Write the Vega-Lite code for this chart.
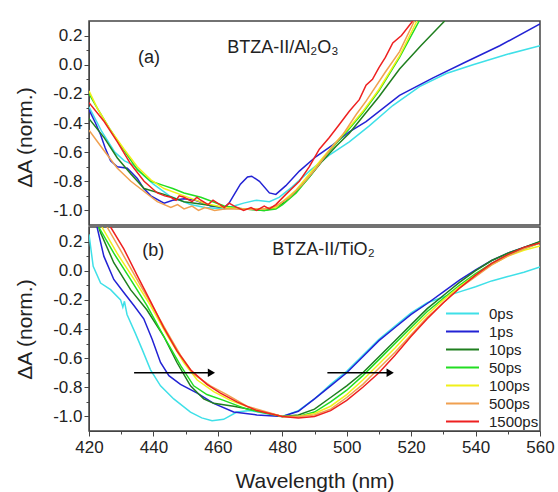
{
  "$schema": "https://vega.github.io/schema/vega-lite/v6.json",
  "padding": {"left": 13, "top": 20, "right": 4, "bottom": 2},
  "background": "white",
  "spacing": 0,
  "config": {
    "view": {"stroke": "#444", "strokeWidth": 1.5},
    "font": "Liberation Sans",
    "axis": {"grid": false, "domainColor": "#444", "tickColor": "#444", "labelColor": "#222", "titleColor": "#222", "titleFontWeight": "normal", "labelFont": "Liberation Sans", "titleFont": "Liberation Sans", "labelFlush": false, "labelOverlap": false}
  },
  "datasets": {
    "a": [
      {"t":"0ps","nm":420,"v":-0.29},{"t":"0ps","nm":424,"v":-0.46},{"t":"0ps","nm":428,"v":-0.6},{"t":"0ps","nm":431,"v":-0.66},{"t":"0ps","nm":434,"v":-0.69},{"t":"0ps","nm":437,"v":-0.76},{"t":"0ps","nm":440,"v":-0.82},{"t":"0ps","nm":445,"v":-0.9},{"t":"0ps","nm":451.5,"v":-0.96},{"t":"0ps","nm":456,"v":-0.98},{"t":"0ps","nm":462,"v":-0.99},{"t":"0ps","nm":465,"v":-0.97},{"t":"0ps","nm":468,"v":-0.95},{"t":"0ps","nm":472,"v":-0.93},{"t":"0ps","nm":476,"v":-0.94},{"t":"0ps","nm":479,"v":-0.91},{"t":"0ps","nm":483,"v":-0.84},{"t":"0ps","nm":488.4,"v":-0.73},{"t":"0ps","nm":494.6,"v":-0.62},{"t":"0ps","nm":500.8,"v":-0.53},{"t":"0ps","nm":507,"v":-0.42},{"t":"0ps","nm":514.3,"v":-0.28},{"t":"0ps","nm":522.6,"v":-0.15},{"t":"0ps","nm":530.9,"v":-0.06},{"t":"0ps","nm":539.2,"v":0.0},{"t":"0ps","nm":549.6,"v":0.07},{"t":"0ps","nm":560,"v":0.13},
      {"t":"1ps","nm":420,"v":-0.31},{"t":"1ps","nm":422,"v":-0.4},{"t":"1ps","nm":423.6,"v":-0.48},{"t":"1ps","nm":425,"v":-0.57},{"t":"1ps","nm":426.7,"v":-0.66},{"t":"1ps","nm":428.8,"v":-0.7},{"t":"1ps","nm":431.9,"v":-0.71},{"t":"1ps","nm":435,"v":-0.78},{"t":"1ps","nm":437,"v":-0.85},{"t":"1ps","nm":439.2,"v":-0.9},{"t":"1ps","nm":443.3,"v":-0.95},{"t":"1ps","nm":446,"v":-0.93},{"t":"1ps","nm":449.5,"v":-0.92},{"t":"1ps","nm":453,"v":-0.93},{"t":"1ps","nm":457.8,"v":-0.97},{"t":"1ps","nm":462,"v":-0.98},{"t":"1ps","nm":463.5,"v":-0.95},{"t":"1ps","nm":465.1,"v":-0.89},{"t":"1ps","nm":467,"v":-0.82},{"t":"1ps","nm":469.2,"v":-0.77},{"t":"1ps","nm":470.5,"v":-0.765},{"t":"1ps","nm":472.9,"v":-0.8},{"t":"1ps","nm":476,"v":-0.88},{"t":"1ps","nm":478,"v":-0.89},{"t":"1ps","nm":481.1,"v":-0.83},{"t":"1ps","nm":485.3,"v":-0.73},{"t":"1ps","nm":490.5,"v":-0.63},{"t":"1ps","nm":495.7,"v":-0.55},{"t":"1ps","nm":500.8,"v":-0.46},{"t":"1ps","nm":506,"v":-0.39},{"t":"1ps","nm":516.4,"v":-0.21},{"t":"1ps","nm":526.8,"v":-0.09},{"t":"1ps","nm":537.1,"v":0.02},{"t":"1ps","nm":547.5,"v":0.13},{"t":"1ps","nm":560,"v":0.28},
      {"t":"10ps","nm":420,"v":-0.37},{"t":"10ps","nm":424.7,"v":-0.5},{"t":"10ps","nm":428.8,"v":-0.64},{"t":"10ps","nm":433,"v":-0.75},{"t":"10ps","nm":437.1,"v":-0.85},{"t":"10ps","nm":443.3,"v":-0.89},{"t":"10ps","nm":449.5,"v":-0.94},{"t":"10ps","nm":455.7,"v":-0.96},{"t":"10ps","nm":462,"v":-0.98},{"t":"10ps","nm":468,"v":-0.99},{"t":"10ps","nm":474.4,"v":-1.0},{"t":"10ps","nm":478,"v":-0.98},{"t":"10ps","nm":481,"v":-0.94},{"t":"10ps","nm":484.3,"v":-0.87},{"t":"10ps","nm":488.4,"v":-0.77},{"t":"10ps","nm":492.5,"v":-0.66},{"t":"10ps","nm":496.7,"v":-0.56},{"t":"10ps","nm":500.8,"v":-0.47},{"t":"10ps","nm":503,"v":-0.41},{"t":"10ps","nm":510,"v":-0.22},{"t":"10ps","nm":516.4,"v":-0.03},{"t":"10ps","nm":523,"v":0.13},{"t":"10ps","nm":530.4,"v":0.3},
      {"t":"50ps","nm":420,"v":-0.2},{"t":"50ps","nm":422.6,"v":-0.3},{"t":"50ps","nm":426.7,"v":-0.45},{"t":"50ps","nm":430.9,"v":-0.59},{"t":"50ps","nm":435,"v":-0.72},{"t":"50ps","nm":439.2,"v":-0.8},{"t":"50ps","nm":443.3,"v":-0.83},{"t":"50ps","nm":446,"v":-0.85},{"t":"50ps","nm":449.5,"v":-0.88},{"t":"50ps","nm":454.7,"v":-0.91},{"t":"50ps","nm":462,"v":-0.97},{"t":"50ps","nm":468.2,"v":-0.99},{"t":"50ps","nm":474.4,"v":-1.0},{"t":"50ps","nm":478,"v":-0.99},{"t":"50ps","nm":480.1,"v":-0.96},{"t":"50ps","nm":484.3,"v":-0.88},{"t":"50ps","nm":488.4,"v":-0.77},{"t":"50ps","nm":492.5,"v":-0.65},{"t":"50ps","nm":496.7,"v":-0.54},{"t":"50ps","nm":500.8,"v":-0.44},{"t":"50ps","nm":505,"v":-0.33},{"t":"50ps","nm":510,"v":-0.18},{"t":"50ps","nm":516.4,"v":0.05},{"t":"50ps","nm":522.5,"v":0.3},
      {"t":"100ps","nm":420,"v":-0.18},{"t":"100ps","nm":422.6,"v":-0.3},{"t":"100ps","nm":426.7,"v":-0.45},{"t":"100ps","nm":430.9,"v":-0.58},{"t":"100ps","nm":435,"v":-0.7},{"t":"100ps","nm":439.2,"v":-0.79},{"t":"100ps","nm":443.3,"v":-0.85},{"t":"100ps","nm":449.5,"v":-0.9},{"t":"100ps","nm":455.7,"v":-0.95},{"t":"100ps","nm":462,"v":-0.98},{"t":"100ps","nm":468.2,"v":-0.99},{"t":"100ps","nm":474,"v":-0.99},{"t":"100ps","nm":478,"v":-0.98},{"t":"100ps","nm":480.1,"v":-0.94},{"t":"100ps","nm":484.3,"v":-0.86},{"t":"100ps","nm":488.4,"v":-0.75},{"t":"100ps","nm":492.5,"v":-0.64},{"t":"100ps","nm":496.7,"v":-0.53},{"t":"100ps","nm":500.8,"v":-0.43},{"t":"100ps","nm":505,"v":-0.32},{"t":"100ps","nm":510,"v":-0.17},{"t":"100ps","nm":516.4,"v":0.06},{"t":"100ps","nm":521.8,"v":0.3},
      {"t":"500ps","nm":420,"v":-0.45},{"t":"500ps","nm":424.7,"v":-0.59},{"t":"500ps","nm":428.8,"v":-0.71},{"t":"500ps","nm":433,"v":-0.8},{"t":"500ps","nm":437.1,"v":-0.87},{"t":"500ps","nm":441.2,"v":-0.94},{"t":"500ps","nm":445.4,"v":-0.98},{"t":"500ps","nm":447.5,"v":-0.96},{"t":"500ps","nm":449.5,"v":-0.99},{"t":"500ps","nm":452,"v":-0.97},{"t":"500ps","nm":454,"v":-1.0},{"t":"500ps","nm":456,"v":-0.98},{"t":"500ps","nm":459,"v":-1.0},{"t":"500ps","nm":462,"v":-0.99},{"t":"500ps","nm":468.2,"v":-0.99},{"t":"500ps","nm":474.4,"v":-0.99},{"t":"500ps","nm":478,"v":-0.97},{"t":"500ps","nm":482.2,"v":-0.91},{"t":"500ps","nm":486.3,"v":-0.82},{"t":"500ps","nm":490.5,"v":-0.71},{"t":"500ps","nm":494.6,"v":-0.59},{"t":"500ps","nm":498.8,"v":-0.48},{"t":"500ps","nm":503,"v":-0.34},{"t":"500ps","nm":506,"v":-0.25},{"t":"500ps","nm":512,"v":-0.05},{"t":"500ps","nm":516.4,"v":0.09},{"t":"500ps","nm":521,"v":0.3},
      {"t":"1500ps","nm":420,"v":-0.26},{"t":"1500ps","nm":424.7,"v":-0.39},{"t":"1500ps","nm":428.8,"v":-0.53},{"t":"1500ps","nm":432.9,"v":-0.68},{"t":"1500ps","nm":437.1,"v":-0.8},{"t":"1500ps","nm":441.2,"v":-0.88},{"t":"1500ps","nm":443.5,"v":-0.9},{"t":"1500ps","nm":445.4,"v":-0.91},{"t":"1500ps","nm":447,"v":-0.93},{"t":"1500ps","nm":448,"v":-0.9},{"t":"1500ps","nm":449.5,"v":-0.91},{"t":"1500ps","nm":452,"v":-0.94},{"t":"1500ps","nm":453.5,"v":-0.91},{"t":"1500ps","nm":454.7,"v":-0.93},{"t":"1500ps","nm":457,"v":-0.96},{"t":"1500ps","nm":458.5,"v":-0.93},{"t":"1500ps","nm":459.9,"v":-0.95},{"t":"1500ps","nm":462,"v":-0.98},{"t":"1500ps","nm":463.5,"v":-0.95},{"t":"1500ps","nm":465.1,"v":-0.97},{"t":"1500ps","nm":468,"v":-1.0},{"t":"1500ps","nm":470.3,"v":-0.98},{"t":"1500ps","nm":472,"v":-1.0},{"t":"1500ps","nm":474.4,"v":-0.97},{"t":"1500ps","nm":476,"v":-0.99},{"t":"1500ps","nm":478,"v":-0.96},{"t":"1500ps","nm":481.1,"v":-0.89},{"t":"1500ps","nm":485.3,"v":-0.8},{"t":"1500ps","nm":488.4,"v":-0.7},{"t":"1500ps","nm":491.5,"v":-0.58},{"t":"1500ps","nm":494.6,"v":-0.5},{"t":"1500ps","nm":497.7,"v":-0.41},{"t":"1500ps","nm":500.8,"v":-0.32},{"t":"1500ps","nm":503.9,"v":-0.24},{"t":"1500ps","nm":506,"v":-0.14},{"t":"1500ps","nm":508,"v":-0.1},{"t":"1500ps","nm":510,"v":-0.02},{"t":"1500ps","nm":512,"v":0.05},{"t":"1500ps","nm":514.3,"v":0.15},{"t":"1500ps","nm":517,"v":0.2},{"t":"1500ps","nm":520.5,"v":0.3}
    ],
    "b": [
      {"t":"0ps","nm":420,"v":0.25},{"t":"0ps","nm":421.3,"v":0.03},{"t":"0ps","nm":423.6,"v":-0.085},{"t":"0ps","nm":426.7,"v":-0.13},{"t":"0ps","nm":429.8,"v":-0.2},{"t":"0ps","nm":430.5,"v":-0.25},{"t":"0ps","nm":431,"v":-0.21},{"t":"0ps","nm":431.8,"v":-0.3},{"t":"0ps","nm":434.4,"v":-0.43},{"t":"0ps","nm":436.5,"v":-0.54},{"t":"0ps","nm":439.1,"v":-0.68},{"t":"0ps","nm":442.2,"v":-0.79},{"t":"0ps","nm":446.3,"v":-0.88},{"t":"0ps","nm":451.5,"v":-0.97},{"t":"0ps","nm":455,"v":-1.01},{"t":"0ps","nm":458.2,"v":-1.03},{"t":"0ps","nm":461.8,"v":-1.02},{"t":"0ps","nm":465.9,"v":-0.97},{"t":"0ps","nm":470,"v":-0.96},{"t":"0ps","nm":475,"v":-0.98},{"t":"0ps","nm":480,"v":-1.0},{"t":"0ps","nm":485,"v":-0.96},{"t":"0ps","nm":490,"v":-0.88},{"t":"0ps","nm":495,"v":-0.78},{"t":"0ps","nm":500,"v":-0.69},{"t":"0ps","nm":505,"v":-0.58},{"t":"0ps","nm":510,"v":-0.47},{"t":"0ps","nm":515,"v":-0.38},{"t":"0ps","nm":520,"v":-0.29},{"t":"0ps","nm":525,"v":-0.22},{"t":"0ps","nm":530,"v":-0.18},{"t":"0ps","nm":535,"v":-0.145},{"t":"0ps","nm":540,"v":-0.11},{"t":"0ps","nm":545,"v":-0.07},{"t":"0ps","nm":550,"v":-0.04},{"t":"0ps","nm":555,"v":-0.01},{"t":"0ps","nm":560,"v":0.025},
      {"t":"1ps","nm":422.5,"v":0.3},{"t":"1ps","nm":424.6,"v":0.1},{"t":"1ps","nm":427.7,"v":-0.06},{"t":"1ps","nm":430.8,"v":-0.15},{"t":"1ps","nm":434,"v":-0.24},{"t":"1ps","nm":437,"v":-0.33},{"t":"1ps","nm":439.6,"v":-0.47},{"t":"1ps","nm":442.2,"v":-0.63},{"t":"1ps","nm":444.8,"v":-0.72},{"t":"1ps","nm":448.4,"v":-0.78},{"t":"1ps","nm":453.6,"v":-0.84},{"t":"1ps","nm":458.7,"v":-0.91},{"t":"1ps","nm":464.9,"v":-0.97},{"t":"1ps","nm":472.1,"v":-0.99},{"t":"1ps","nm":480,"v":-1.0},{"t":"1ps","nm":485,"v":-0.965},{"t":"1ps","nm":490,"v":-0.88},{"t":"1ps","nm":495,"v":-0.79},{"t":"1ps","nm":500,"v":-0.7},{"t":"1ps","nm":505,"v":-0.59},{"t":"1ps","nm":510,"v":-0.48},{"t":"1ps","nm":515,"v":-0.39},{"t":"1ps","nm":520,"v":-0.3},{"t":"1ps","nm":525,"v":-0.225},{"t":"1ps","nm":530,"v":-0.145},{"t":"1ps","nm":535,"v":-0.065},{"t":"1ps","nm":540,"v":0.005},{"t":"1ps","nm":545,"v":0.07},{"t":"1ps","nm":550,"v":0.12},{"t":"1ps","nm":555,"v":0.16},{"t":"1ps","nm":560,"v":0.197},
      {"t":"10ps","nm":423,"v":0.3},{"t":"10ps","nm":423.6,"v":0.26},{"t":"10ps","nm":427.7,"v":0.055},{"t":"10ps","nm":432.9,"v":-0.13},{"t":"10ps","nm":438,"v":-0.27},{"t":"10ps","nm":443.2,"v":-0.45},{"t":"10ps","nm":447.3,"v":-0.63},{"t":"10ps","nm":451.5,"v":-0.79},{"t":"10ps","nm":455.6,"v":-0.88},{"t":"10ps","nm":458.7,"v":-0.91},{"t":"10ps","nm":464.9,"v":-0.93},{"t":"10ps","nm":472.1,"v":-0.96},{"t":"10ps","nm":480,"v":-1.0},{"t":"10ps","nm":485,"v":-0.99},{"t":"10ps","nm":490,"v":-0.95},{"t":"10ps","nm":495,"v":-0.87},{"t":"10ps","nm":500,"v":-0.79},{"t":"10ps","nm":505,"v":-0.7},{"t":"10ps","nm":510,"v":-0.59},{"t":"10ps","nm":515,"v":-0.48},{"t":"10ps","nm":520,"v":-0.37},{"t":"10ps","nm":525,"v":-0.26},{"t":"10ps","nm":530,"v":-0.17},{"t":"10ps","nm":535,"v":-0.08},{"t":"10ps","nm":540,"v":0.0},{"t":"10ps","nm":545,"v":0.07},{"t":"10ps","nm":550,"v":0.12},{"t":"10ps","nm":555,"v":0.16},{"t":"10ps","nm":560,"v":0.2},
      {"t":"50ps","nm":423,"v":0.3},{"t":"50ps","nm":427.7,"v":0.12},{"t":"50ps","nm":432.9,"v":-0.06},{"t":"50ps","nm":438,"v":-0.24},{"t":"50ps","nm":443.2,"v":-0.45},{"t":"50ps","nm":448.4,"v":-0.65},{"t":"50ps","nm":452.5,"v":-0.79},{"t":"50ps","nm":456.6,"v":-0.85},{"t":"50ps","nm":461.8,"v":-0.89},{"t":"50ps","nm":469,"v":-0.95},{"t":"50ps","nm":480,"v":-1.0},{"t":"50ps","nm":485,"v":-1.0},{"t":"50ps","nm":490,"v":-0.97},{"t":"50ps","nm":495,"v":-0.9},{"t":"50ps","nm":500,"v":-0.82},{"t":"50ps","nm":505,"v":-0.72},{"t":"50ps","nm":510,"v":-0.61},{"t":"50ps","nm":515,"v":-0.5},{"t":"50ps","nm":520,"v":-0.39},{"t":"50ps","nm":525,"v":-0.28},{"t":"50ps","nm":530,"v":-0.19},{"t":"50ps","nm":535,"v":-0.1},{"t":"50ps","nm":540,"v":-0.02},{"t":"50ps","nm":545,"v":0.05},{"t":"50ps","nm":550,"v":0.11},{"t":"50ps","nm":555,"v":0.15},{"t":"50ps","nm":560,"v":0.19},
      {"t":"100ps","nm":424,"v":0.3},{"t":"100ps","nm":428.7,"v":0.12},{"t":"100ps","nm":434,"v":-0.06},{"t":"100ps","nm":439.1,"v":-0.24},{"t":"100ps","nm":444.2,"v":-0.44},{"t":"100ps","nm":449.4,"v":-0.63},{"t":"100ps","nm":453.6,"v":-0.75},{"t":"100ps","nm":458.7,"v":-0.83},{"t":"100ps","nm":463.9,"v":-0.89},{"t":"100ps","nm":471.1,"v":-0.95},{"t":"100ps","nm":480,"v":-1.0},{"t":"100ps","nm":485,"v":-1.0},{"t":"100ps","nm":490,"v":-0.98},{"t":"100ps","nm":495,"v":-0.93},{"t":"100ps","nm":500,"v":-0.85},{"t":"100ps","nm":505,"v":-0.75},{"t":"100ps","nm":510,"v":-0.64},{"t":"100ps","nm":515,"v":-0.53},{"t":"100ps","nm":520,"v":-0.41},{"t":"100ps","nm":525,"v":-0.3},{"t":"100ps","nm":530,"v":-0.2},{"t":"100ps","nm":535,"v":-0.11},{"t":"100ps","nm":540,"v":-0.03},{"t":"100ps","nm":545,"v":0.04},{"t":"100ps","nm":550,"v":0.1},{"t":"100ps","nm":555,"v":0.14},{"t":"100ps","nm":560,"v":0.17},
      {"t":"500ps","nm":425.6,"v":0.3},{"t":"500ps","nm":430.3,"v":0.12},{"t":"500ps","nm":434.9,"v":-0.06},{"t":"500ps","nm":439.6,"v":-0.24},{"t":"500ps","nm":444.2,"v":-0.42},{"t":"500ps","nm":448.4,"v":-0.58},{"t":"500ps","nm":452.5,"v":-0.71},{"t":"500ps","nm":457.7,"v":-0.79},{"t":"500ps","nm":462.8,"v":-0.85},{"t":"500ps","nm":469,"v":-0.93},{"t":"500ps","nm":480,"v":-1.0},{"t":"500ps","nm":485,"v":-1.0},{"t":"500ps","nm":490,"v":-0.99},{"t":"500ps","nm":495,"v":-0.95},{"t":"500ps","nm":500,"v":-0.87},{"t":"500ps","nm":505,"v":-0.78},{"t":"500ps","nm":510,"v":-0.67},{"t":"500ps","nm":515,"v":-0.56},{"t":"500ps","nm":520,"v":-0.44},{"t":"500ps","nm":525,"v":-0.32},{"t":"500ps","nm":530,"v":-0.22},{"t":"500ps","nm":535,"v":-0.12},{"t":"500ps","nm":540,"v":-0.04},{"t":"500ps","nm":545,"v":0.04},{"t":"500ps","nm":550,"v":0.1},{"t":"500ps","nm":555,"v":0.15},{"t":"500ps","nm":560,"v":0.19},
      {"t":"1500ps","nm":426.7,"v":0.3},{"t":"1500ps","nm":430.8,"v":0.15},{"t":"1500ps","nm":434.9,"v":-0.03},{"t":"1500ps","nm":439.1,"v":-0.21},{"t":"1500ps","nm":443.2,"v":-0.39},{"t":"1500ps","nm":447.3,"v":-0.55},{"t":"1500ps","nm":451.5,"v":-0.68},{"t":"1500ps","nm":456.6,"v":-0.78},{"t":"1500ps","nm":460.8,"v":-0.84},{"t":"1500ps","nm":465.9,"v":-0.9},{"t":"1500ps","nm":472.1,"v":-0.96},{"t":"1500ps","nm":480,"v":-1.0},{"t":"1500ps","nm":485,"v":-1.01},{"t":"1500ps","nm":490,"v":-1.0},{"t":"1500ps","nm":495,"v":-0.96},{"t":"1500ps","nm":500,"v":-0.89},{"t":"1500ps","nm":505,"v":-0.8},{"t":"1500ps","nm":510,"v":-0.7},{"t":"1500ps","nm":515,"v":-0.58},{"t":"1500ps","nm":520,"v":-0.45},{"t":"1500ps","nm":525,"v":-0.33},{"t":"1500ps","nm":530,"v":-0.22},{"t":"1500ps","nm":535,"v":-0.12},{"t":"1500ps","nm":540,"v":-0.03},{"t":"1500ps","nm":545,"v":0.05},{"t":"1500ps","nm":550,"v":0.11},{"t":"1500ps","nm":555,"v":0.16},{"t":"1500ps","nm":560,"v":0.19}
    ],
    "textA": [
      {"x":435.2,"y":0.01,"text":"(a)"},
      {"x":462.9,"y":0.081,"text":"BTZA-II/Al₂O₃"}
    ],
    "textB": [
      {"x":436.5,"y":0.104,"text":"(b)"},
      {"x":476.9,"y":0.111,"text":"BTZA-II/TiO₂"}
    ],
    "arrows": [
      {"x":434,"x2":458,"y":-0.7},
      {"x":494,"x2":513.5,"y":-0.7}
    ]
  },
  "vconcat": [
    {
      "width": 451,
      "height": 204,
      "layer": [
        {
          "data": {"name": "a"},
          "mark": {"type": "line", "strokeWidth": 1.5, "clip": true},
          "encoding": {
            "x": {"field": "nm", "type": "quantitative", "scale": {"domain": [420, 560], "nice": false, "zero": false}, "axis": null},
            "y": {"field": "v", "type": "quantitative", "scale": {"domain": [-1.1, 0.3], "nice": false, "zero": false},
              "axis": {"title": "ΔA (norm.)", "titleFontSize": 21, "titlePadding": 17, "titleY": 116, "labelOverlap": false, "tickCount": 100,
                "values": [-1.0,-0.9,-0.8,-0.7,-0.6,-0.5,-0.4,-0.3,-0.2,-0.1,0.0,0.1,0.2],
                "labelExpr": "abs(round(datum.value*10))%2==0 ? replace(format(datum.value,'.1f'),'\u2212','-') : ''",
                "tickSize": {"condition": {"test": "abs(round(datum.value*10))%2==0", "value": 5}, "value": 3},
                "labelFontSize": 17, "labelPadding": 2}},
            "color": {"field": "t", "type": "nominal", "legend": null,
              "scale": {"domain": ["0ps","1ps","10ps","50ps","100ps","500ps","1500ps"], "range": ["#3fe0e8","#2222d4","#1f7f1f","#22dd22","#f0f01a","#f0a050","#ee2020"]}}
          }
        },
        {
          "data": {"name": "textA"},
          "mark": {"type": "text", "align": "left", "baseline": "alphabetic", "fontSize": 18, "color": "#222"},
          "encoding": {"x": {"field": "x", "type": "quantitative"}, "y": {"field": "y", "type": "quantitative"}, "text": {"field": "text"}}
        }
      ]
    },
    {
      "width": 451,
      "height": 204,
      "layer": [
        {
          "data": {"name": "b"},
          "mark": {"type": "line", "strokeWidth": 1.5, "clip": true},
          "encoding": {
            "x": {"field": "nm", "type": "quantitative", "scale": {"domain": [420, 560], "nice": false, "zero": false},
              "axis": {"title": "Wavelength (nm)", "titleFontSize": 21, "titlePadding": 15, "labelOverlap": false, "tickCount": 100,
                "values": [420,430,440,450,460,470,480,490,500,510,520,530,540,550,560],
                "labelExpr": "datum.value%20==0 ? datum.label : ''",
                "tickSize": {"condition": {"test": "datum.value%20==0", "value": 5}, "value": 3},
                "labelFontSize": 17, "labelPadding": 3}},
            "y": {"field": "v", "type": "quantitative", "scale": {"domain": [-1.1, 0.3], "nice": false, "zero": false},
              "axis": {"title": "ΔA (norm.)", "titleFontSize": 21, "titlePadding": 17, "labelOverlap": false, "tickCount": 100,
                "values": [-1.0,-0.9,-0.8,-0.7,-0.6,-0.5,-0.4,-0.3,-0.2,-0.1,0.0,0.1,0.2],
                "labelExpr": "abs(round(datum.value*10))%2==0 ? replace(format(datum.value,'.1f'),'\u2212','-') : ''",
                "tickSize": {"condition": {"test": "abs(round(datum.value*10))%2==0", "value": 5}, "value": 3},
                "labelFontSize": 17, "labelPadding": 2}},
            "color": {"field": "t", "type": "nominal",
              "scale": {"domain": ["0ps","1ps","10ps","50ps","100ps","500ps","1500ps"], "range": ["#3fe0e8","#2222d4","#1f7f1f","#22dd22","#f0f01a","#f0a050","#ee2020"]},
              "legend": {"orient": "bottom-right", "title": null, "symbolType": "M-3.3,0H3.3", "symbolSize": 100, "symbolStrokeWidth": 2, "labelFontSize": 15, "labelColor": "#222", "labelOffset": 19, "offset": 1, "padding": 0, "rowPadding": 2}}
          }
        },
        {
          "data": {"name": "arrows"},
          "mark": {"type": "rule", "color": "black", "strokeWidth": 1.5},
          "encoding": {"x": {"field": "x", "type": "quantitative"}, "x2": {"field": "x2"}, "y": {"field": "y", "type": "quantitative"}}
        },
        {
          "data": {"name": "arrows"},
          "mark": {"type": "point", "shape": "triangle-right", "filled": true, "color": "black", "size": 70, "opacity": 1},
          "encoding": {"x": {"field": "x2", "type": "quantitative"}, "y": {"field": "y", "type": "quantitative"}}
        },
        {
          "data": {"name": "textB"},
          "mark": {"type": "text", "align": "left", "baseline": "alphabetic", "fontSize": 18, "color": "#222"},
          "encoding": {"x": {"field": "x", "type": "quantitative"}, "y": {"field": "y", "type": "quantitative"}, "text": {"field": "text"}}
        }
      ]
    }
  ],
  "resolve": {"legend": {"color": "independent"}}
}
